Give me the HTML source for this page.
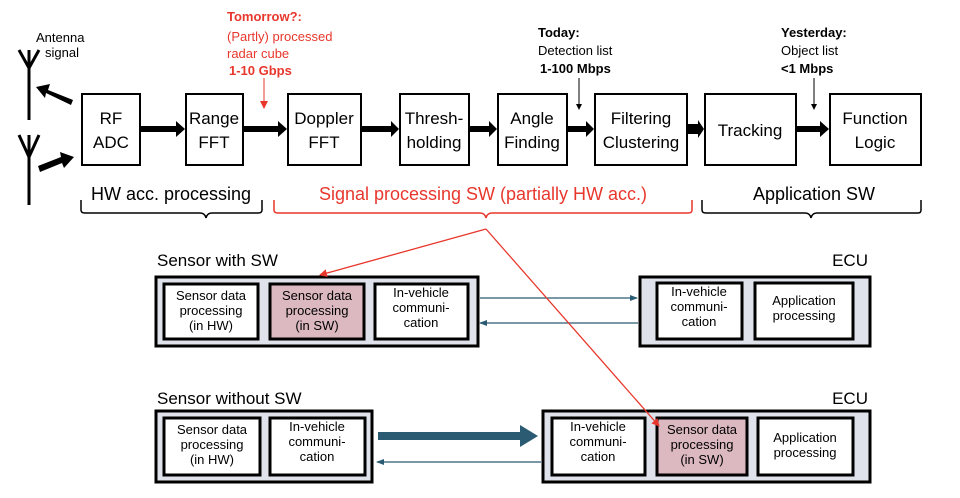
<!DOCTYPE html>
<html><head><style>
body{margin:0;width:960px;height:493px;background:#fff;overflow:hidden;font-family:"Liberation Sans",sans-serif}
</style></head><body>
<svg width="960" height="493" viewBox="0 0 960 493" xmlns="http://www.w3.org/2000/svg" font-family="Liberation Sans, sans-serif">
<defs>
<marker id="ab" markerWidth="6" markerHeight="6" refX="5" refY="3" orient="auto" markerUnits="userSpaceOnUse"><path d="M0,0L6,3L0,6z" fill="#000"/></marker>
<marker id="ar" markerWidth="8" markerHeight="8" refX="7" refY="4" orient="auto" markerUnits="userSpaceOnUse"><path d="M0,0L8,4L0,8z" fill="#e8372c"/></marker>
<marker id="at" markerWidth="8" markerHeight="8" refX="7" refY="4" orient="auto" markerUnits="userSpaceOnUse"><path d="M0,1L8,4L0,7z" fill="#2b5b73"/></marker>
</defs>
<g stroke="#000" stroke-width="3" fill="none">
<path d="M19,50L29,68L39,50M29,50V120"/>
<path d="M19,135L29,157L39,135M29,135V205"/>
</g>
<g fill="#000">
<path d="M73,100L48,90L50,84L36,87L45,98L46,93L71,105z"/>
<path d="M40,172L62,163L64,168L74,157L60,152L61,157L38,166z"/>
</g>
<text x="36" y="42" font-size="13">Antenna</text>
<text x="45" y="57" font-size="13">signal</text>
<g fill="#fff" stroke="#000" stroke-width="2">
<rect x="82" y="94" width="58" height="71"/>
<rect x="186" y="94" width="57" height="71"/>
<rect x="288" y="94" width="73" height="71"/>
<rect x="400" y="94" width="69" height="71"/>
<rect x="498" y="94" width="69" height="71"/>
<rect x="595" y="94" width="92" height="71"/>
<rect x="705" y="94" width="91" height="71"/>
<rect x="830" y="94" width="91" height="71"/>
</g>
<g fill="#000">
<path d="M141,126H176V121L185,129L176,137V132H141z"/>
<path d="M244,126H278V121L287,129L278,137V132H244z"/>
<path d="M362,126H391V121L399,129L391,137V132H362z"/>
<path d="M470,126H489V121L497,129L489,137V132H470z"/>
<path d="M568,126H586V121L594,129L586,137V132H568z"/>
<path d="M688,124H698V120L704,129L698,138V134H688z"/>
<path d="M797,126H820V121L829,129L820,137V132H797z"/>
</g>
<g font-size="17" text-anchor="middle" fill="#000">
<text x="111" y="124">RF</text><text x="111" y="148">ADC</text>
<text x="214" y="124">Range</text><text x="214" y="148">FFT</text>
<text x="324" y="124">Doppler</text><text x="324" y="148">FFT</text>
<text x="434" y="124">Thresh-</text><text x="434" y="148">holding</text>
<text x="532" y="124">Angle</text><text x="532" y="148">Finding</text>
<text x="641" y="124">Filtering</text><text x="641" y="148">Clustering</text>
<text x="750" y="136">Tracking</text>
<text x="875" y="124">Function</text><text x="875" y="148">Logic</text>
</g>
<g font-size="13" fill="#e8372c">
<text x="227" y="21" font-weight="bold">Tomorrow?:</text>
<text x="227" y="41">(Partly) processed</text>
<text x="227" y="58">radar cube</text>
<text x="229" y="75" font-weight="bold">1-10 Gbps</text>
</g>
<line x1="264" y1="78" x2="264" y2="108" stroke="#e8372c" stroke-width="1" marker-end="url(#ar)"/>
<g font-size="13" fill="#000">
<text x="538" y="37" font-weight="bold">Today:</text>
<text x="538" y="55">Detection list</text>
<text x="540" y="73" font-weight="bold">1-100 Mbps</text>
<text x="781" y="37" font-weight="bold">Yesterday:</text>
<text x="781" y="55">Object list</text>
<text x="781" y="73" font-weight="bold">&lt;1 Mbps</text>
</g>
<line x1="579" y1="78" x2="579" y2="109" stroke="#000" stroke-width="1" marker-end="url(#ab)"/>
<line x1="814" y1="78" x2="814" y2="109" stroke="#000" stroke-width="1" marker-end="url(#ab)"/>
<g fill="none" stroke-width="1.5">
<path d="M81,200V210Q81,213 85,213H200Q205,213 206,218Q207,213 212,213H258Q262,213 262,210V200" stroke="#000"/>
<path d="M274,200V210Q274,213 278,213H480Q485,213 486,218Q487,213 492,213H688Q692,213 692,210V200" stroke="#e8372c"/>
<path d="M702,200V210Q702,213 706,213H805Q810,213 811,218Q812,213 817,213H918Q921,213 921,210V200" stroke="#000"/>
</g>
<text x="171" y="200" font-size="18" text-anchor="middle">HW acc. processing</text>
<text x="483" y="200" font-size="18" text-anchor="middle" fill="#e8372c">Signal processing SW (partially HW acc.)</text>
<text x="814" y="200" font-size="18" text-anchor="middle">Application SW</text>
<text x="157" y="266" font-size="17">Sensor with SW</text>
<text x="868" y="266" font-size="17" text-anchor="end">ECU</text>
<text x="157" y="404" font-size="17">Sensor without SW</text>
<text x="868" y="404" font-size="17" text-anchor="end">ECU</text>
<g fill="#dfe2ea" stroke="#000" stroke-width="3">
<rect x="156" y="277" width="322" height="69"/>
<rect x="640" y="277" width="230" height="69"/>
<rect x="156" y="411" width="216" height="71"/>
<rect x="543" y="411" width="327" height="71"/>
</g>
<g stroke="#000" stroke-width="3" fill="#fff">
<rect x="164" y="284" width="94" height="55"/>
<rect x="270" y="284" width="94" height="55" fill="#dcb9c1"/>
<rect x="375" y="284" width="93" height="55"/>
<rect x="657" y="283" width="85" height="56"/>
<rect x="755" y="283" width="98" height="56"/>
<rect x="164" y="418" width="96" height="57"/>
<rect x="270" y="418" width="95" height="57"/>
<rect x="552" y="418" width="93" height="57"/>
<rect x="657" y="418" width="90" height="57" fill="#dcb9c1"/>
<rect x="758" y="418" width="95" height="57"/>
</g>
<g font-size="13" text-anchor="middle" fill="#000">
<text x="211" y="300">Sensor data</text><text x="211" y="315">processing</text><text x="211" y="330">(in HW)</text>
<text x="317" y="300">Sensor data</text><text x="317" y="315">processing</text><text x="317" y="330">(in SW)</text>
<text x="421" y="297">In-vehicle</text><text x="421" y="312">communi-</text><text x="421" y="327">cation</text>
<text x="699" y="296">In-vehicle</text><text x="699" y="311">communi-</text><text x="699" y="326">cation</text>
<text x="804" y="305">Application</text><text x="804" y="320">processing</text>
<text x="212" y="434">Sensor data</text><text x="212" y="449">processing</text><text x="212" y="464">(in HW)</text>
<text x="317" y="431">In-vehicle</text><text x="317" y="446">communi-</text><text x="317" y="461">cation</text>
<text x="598" y="431">In-vehicle</text><text x="598" y="446">communi-</text><text x="598" y="461">cation</text>
<text x="702" y="434">Sensor data</text><text x="702" y="449">processing</text><text x="702" y="464">(in SW)</text>
<text x="805" y="442">Application</text><text x="805" y="457">processing</text>
</g>
<g stroke="#2b5b73" stroke-width="1.2">
<line x1="480" y1="298" x2="637" y2="298" marker-end="url(#at)"/>
<line x1="638" y1="323" x2="480" y2="323" marker-end="url(#at)"/>
<line x1="541" y1="462" x2="377" y2="462" marker-end="url(#at)"/>
</g>
<path d="M378,432H520V425L538,436L520,447V440H378z" fill="#2b5b73"/>
<g stroke="#e8372c" stroke-width="1.3" fill="none">
<line x1="486" y1="229" x2="320" y2="275" marker-end="url(#ar)"/>
<line x1="486" y1="229" x2="659" y2="426" marker-end="url(#ar)"/>
</g>
</svg>
</body></html>
